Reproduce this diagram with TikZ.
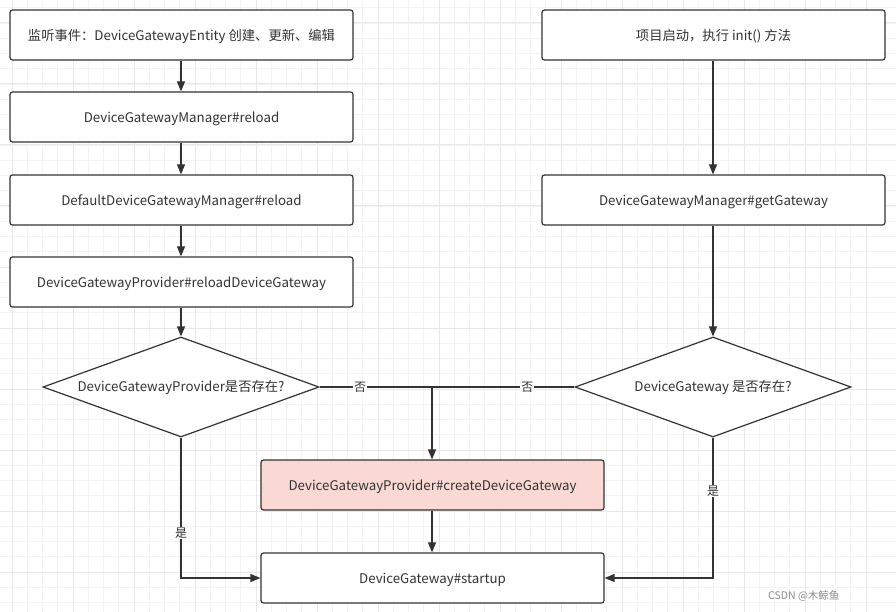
\documentclass[tikz,border=0pt]{standalone}
\usepackage{fontspec}
\setmainfont{Noto Sans CJK SC}
\usetikzlibrary{shapes.geometric,arrows.meta}
\definecolor{edge}{HTML}{333333}
\definecolor{txt}{HTML}{333333}
\definecolor{pinkfill}{HTML}{FAD9D5}
\definecolor{gridminor}{HTML}{F3F3F3}
\definecolor{gridmajor}{HTML}{E8E8E8}
\tikzset{
  box/.style={draw=edge, line width=1.2pt, rounded corners=2.5pt, fill=white,
    minimum width=343pt, minimum height=50pt, inner sep=0pt, font=\fontsize{13.3}{15}\selectfont, text=txt,
    text depth=-2pt},
  dia/.style={draw=edge, line width=1.2pt, diamond, aspect=2.76, fill=white, inner sep=0pt,
    minimum width=276pt, minimum height=100pt, font=\fontsize{13.3}{15}\selectfont, text=txt},
  conn/.style={draw=edge, line width=1.2pt, -{Triangle[length=10pt,width=8pt]}},
  plain/.style={draw=edge, line width=1.2pt},
  lbl/.style={fill=white, inner sep=1pt, font=\fontsize{12}{14}\selectfont, text=txt}
}
\begin{document}
\begin{tikzpicture}[x=1pt,y=-1pt]
\useasboundingbox (0,0) rectangle (896,612);
\fill[white] (0,0) rectangle (896,612);
% grid
\foreach \i in {0,...,60} {
  \pgfmathsetmacro{\gx}{12-61+\i*15.25}
  \draw[gridminor, line width=0.8pt] (\gx,0) -- (\gx,612);
}
\foreach \i in {0,...,42} {
  \pgfmathsetmacro{\gy}{23-61+\i*15.25}
  \draw[gridminor, line width=0.8pt] (0,\gy) -- (896,\gy);
}
\foreach \i in {0,...,15} {
  \pgfmathsetmacro{\gx}{12+\i*61}
  \draw[gridmajor, line width=1pt] (\gx,0) -- (\gx,612);
}
\foreach \i in {0,...,10} {
  \pgfmathsetmacro{\gy}{23+\i*61}
  \draw[gridmajor, line width=1pt] (0,\gy) -- (896,\gy);
}
% nodes
\node[box] (a) at (181.5,35) {监听事件：DeviceGatewayEntity 创建、更新、编辑};
\node[box] (b) at (181.5,117) {DeviceGatewayManager\#reload};
\node[box] (c) at (181.5,200) {DefaultDeviceGatewayManager\#reload};
\node[box] (d) at (181.5,282) {DeviceGatewayProvider\#reloadDeviceGateway};
\node[dia] (dl) at (181,387) {DeviceGatewayProvider是否存在?};
\node[box] (r1) at (713.5,35) {项目启动，执行 init() 方法};
\node[box] (r2) at (713.5,200) {DeviceGatewayManager\#getGateway};
\node[dia] (dr) at (713,387) {DeviceGateway 是否存在?};
\node[box, fill=pinkfill] (p) at (432.5,485) {DeviceGatewayProvider\#createDeviceGateway};
\node[box] (s) at (432.5,578) {DeviceGateway\#startup};
\coordinate (j) at (432,387);
% edges
\draw[conn] (a.south -| 181,0) -- (b.north -| 181,0);
\draw[conn] (b.south -| 181,0) -- (c.north -| 181,0);
\draw[conn] (c.south -| 181,0) -- (d.north -| 181,0);
\draw[conn] (d.south -| 181,0) -- (dl.north);
\draw[conn] (r1.south -| 713,0) -- (r2.north -| 713,0);
\draw[conn] (r2.south -| 713,0) -- (dr.north);
\draw[plain] (dl.east) -- node[lbl, pos=0.36] {否} (j);
\draw[plain] (dr.west) -- node[lbl, pos=0.33] {否} (j);
\draw[conn] (j) -- (p.north -| j);
\draw[conn] (p.south -| j) -- (s.north -| j);
\draw[conn] (dl.south) -- node[lbl, pos=0.68] {是} (dl.south |- s.west) -- (s.west);
\draw[conn] (dr.south) -- node[lbl, pos=0.38] {是} (dr.south |- s.east) -- (s.east);
% watermark
\node[font=\fontsize{10.5}{13}\selectfont, text=black!45, anchor=east] (wm) at (843,596) {CSDN @木鲸鱼};
\end{tikzpicture}
\end{document}
